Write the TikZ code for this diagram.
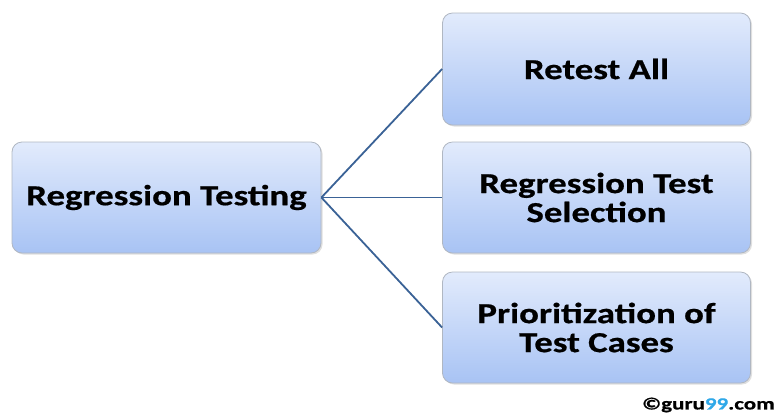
\documentclass[tikz,border=0pt]{standalone}
\usepackage{fontspec}
\setmainfont{Carlito}
\newfontfamily\widefont[FakeStretch=1.27, BoldFeatures={FakeBold=0.6}]{Carlito}
\newfontfamily\brandfont[FakeStretch=1.35, BoldFeatures={FakeBold=0.8}]{Carlito}
\usetikzlibrary{shadows}
\definecolor{boxtop}{HTML}{E2EBFC}
\definecolor{boxbot}{HTML}{A8C3F4}
\definecolor{boxline}{HTML}{B0B7C2}
\definecolor{linkblue}{HTML}{3A6296}
\definecolor{brandblue}{HTML}{2FA8E8}
\tikzset{
  x=1pt, y=-1pt,
  card/.style={draw=boxline, line width=0.8pt, rounded corners=10pt,
    top color=boxtop, bottom color=boxbot,
    drop shadow={shadow xshift=1.5pt, shadow yshift=-1.5pt, opacity=0.25},
    minimum width=308pt, minimum height=112pt, align=center,
    font=\widefont\bfseries\fontsize{29}{29}\selectfont, text=black, inner sep=0pt},
  link/.style={draw=linkblue, line width=1.8pt}
}
\begin{document}
\begin{tikzpicture}
\useasboundingbox (0,0) rectangle (779,416);
\node[card, minimum width=309pt, minimum height=111pt] (root) at (166.5,197.5) {Regression Testing};
\node[card] (all) at (596.5,69) {Retest All};
\node[card, minimum height=111pt] (sel) at (596.5,197.5) {Regression Test\\Selection};
\node[card, minimum height=111pt] (pri) at (596.5,327.5) {Prioritization of\\Test Cases};
\draw[link] (root.east) -- (all.west);
\draw[link] (root.east) -- (sel.west);
\draw[link] (root.east) -- (pri.west);
\node[anchor=east, inner sep=0pt, font=\brandfont\bfseries\fontsize{17}{17}\selectfont] (brand) at (775,405)
  {©guru\textcolor{brandblue}{99}.com};
\end{tikzpicture}
\end{document}
